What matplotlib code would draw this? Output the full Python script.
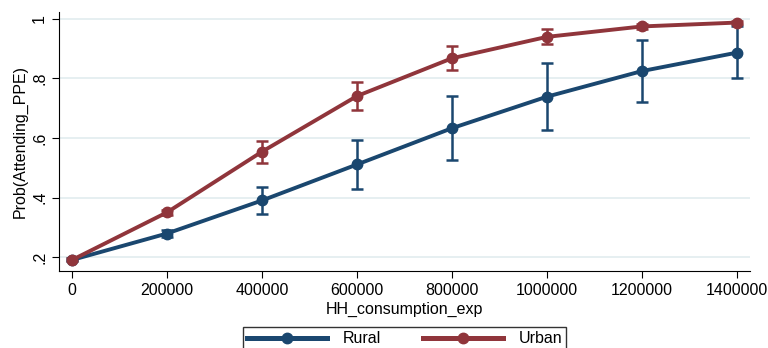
#!/usr/bin/env python3
from matplotlib import pyplot as plt

x = [0, 200000, 400000, 600000, 800000, 1000000, 1200000, 1400000]

rural = [0.19, 0.279, 0.390, 0.511, 0.633, 0.739, 0.825, 0.887]
rural_lo = [0.185, 0.268, 0.345, 0.430, 0.525, 0.627, 0.720, 0.800]
rural_hi = [0.195, 0.290, 0.435, 0.594, 0.740, 0.853, 0.929, 0.975]

urban = [0.19, 0.350, 0.554, 0.741, 0.868, 0.940, 0.975, 0.988]
urban_lo = [0.185, 0.342, 0.517, 0.695, 0.830, 0.915, 0.966, 0.983]
urban_hi = [0.195, 0.358, 0.590, 0.789, 0.908, 0.965, 0.984, 0.993]

xticks = [0, 200000, 400000, 600000, 800000, 1000000, 1200000, 1400000]
yticks = [0.2, 0.4, 0.6, 0.8, 1.0]
ytick_labels = ['.2', '.4', '.6', '.8', '1']

navy = '#1a476f'
maroon = '#90353b'


def main():
    plt.rcParams['font.family'] = ['Liberation Sans', 'DejaVu Sans']
    fig = plt.figure(figsize=(7.68, 3.48), dpi=100)
    ax = fig.add_axes([0.0768, 0.2213, 0.8998, 0.7442])

    for ys, lo, hi, col, lab in [(rural, rural_lo, rural_hi, navy, 'Rural'),
                                 (urban, urban_lo, urban_hi, maroon, 'Urban')]:
        err = [[y - l for y, l in zip(ys, lo)], [h - y for y, h in zip(ys, hi)]]
        ax.errorbar(x, ys, yerr=err, fmt='none', ecolor=col, elinewidth=1.8,
                    capsize=4, capthick=1.8, zorder=2)
        ax.plot(x, ys, color=col, linewidth=2.8, marker='o', markersize=7.5,
                label=lab, zorder=3)

    ax.set_xlim(-27368, 1427368)
    ax.set_ylim(0.153, 1.0235)
    ax.set_xticks(xticks)
    ax.set_xticklabels([str(t) for t in xticks], fontsize=11.5)
    ax.set_yticks(yticks)
    ax.set_yticklabels(ytick_labels, fontsize=11.5, rotation=90, va='center')
    ax.grid(True, axis='y', color='#e6eff1', linewidth=1.4)
    ax.set_axisbelow(True)
    for s in ['top', 'right']:
        ax.spines[s].set_visible(False)
    ax.tick_params(length=5, color='black')
    ax.set_xlabel('HH_consumption_exp', fontsize=11.5, labelpad=3)
    ax.set_ylabel('Prob(Attending_PPE)', fontsize=11.5, labelpad=3)

    leg = fig.legend(loc='upper center', bbox_to_anchor=(0.527, 0.082), ncol=2,
                     frameon=True, fancybox=False, edgecolor='black',
                     fontsize=11.5, handlelength=5.0, columnspacing=2.6,
                     borderpad=0.25, handletextpad=1.0)
    for line in leg.get_lines():
        line.set_linewidth(3.6)

    fig.savefig('out.png', dpi=100)


if __name__ == '__main__':
    main()
